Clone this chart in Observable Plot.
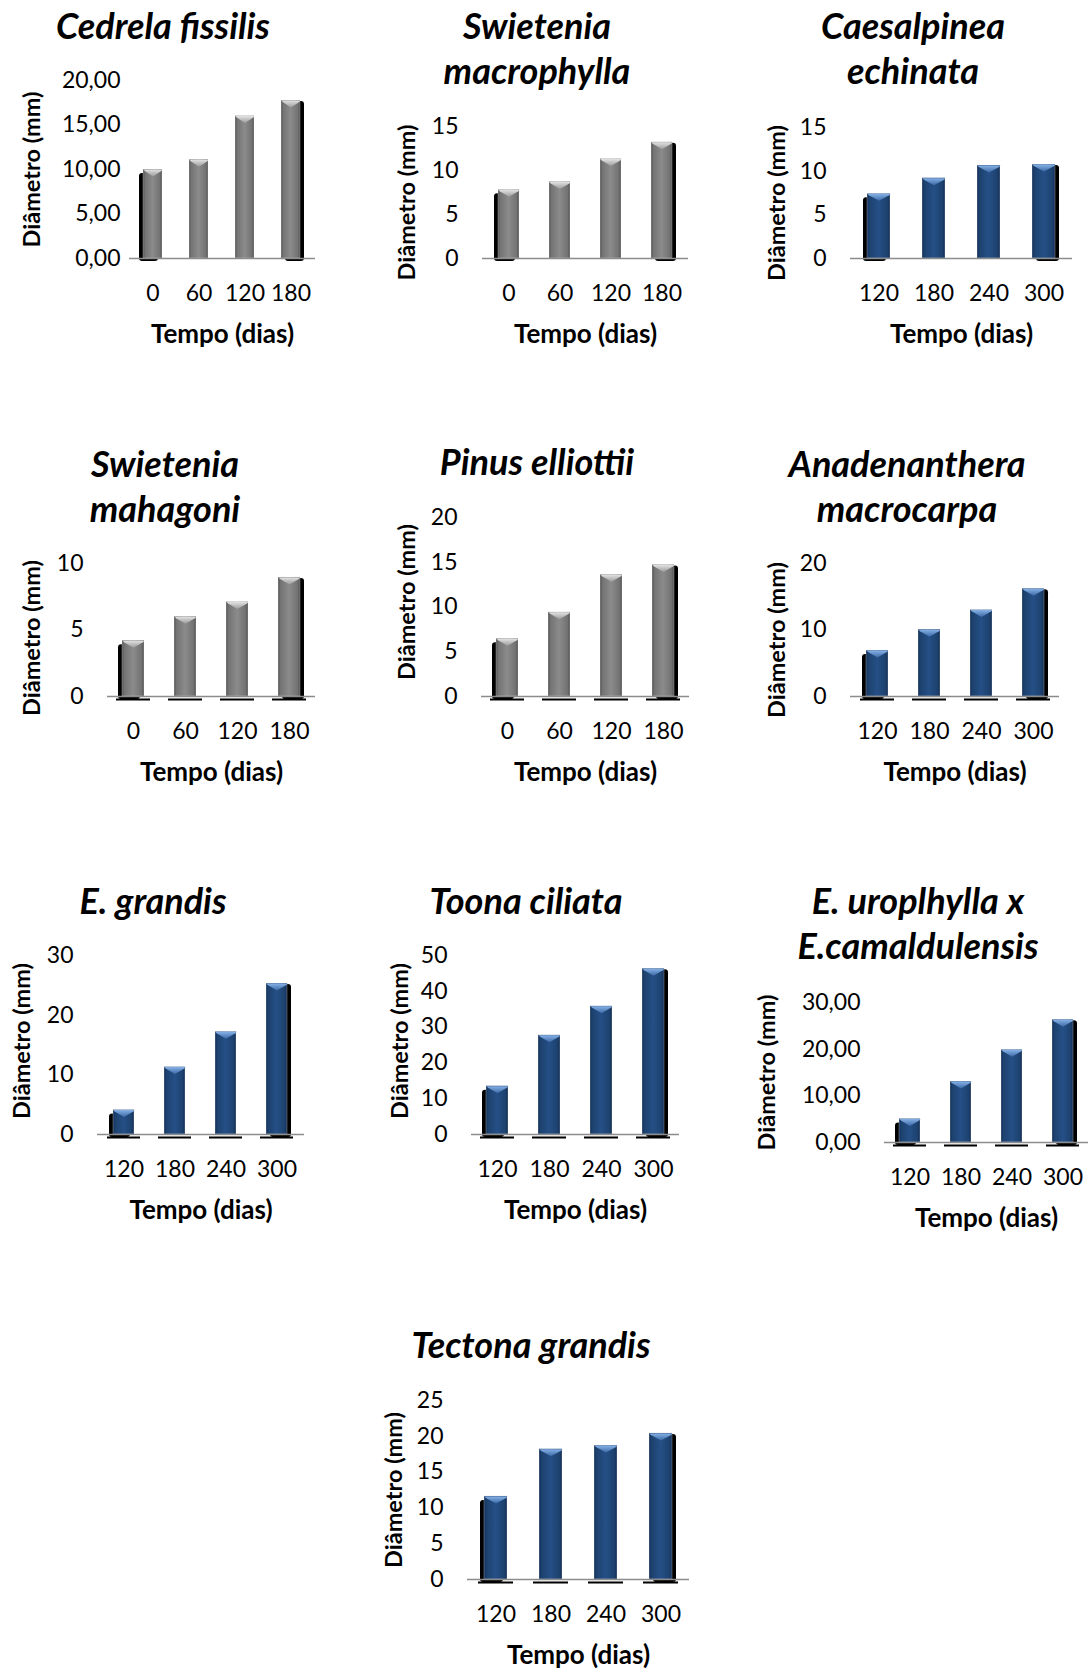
<!DOCTYPE html>
<html>
<head>
<meta charset="utf-8">
<script src="https://cdn.jsdelivr.net/npm/d3@7"></script>
<script src="https://cdn.jsdelivr.net/npm/@observablehq/plot@0.6"></script>
<style>
  html, body { margin: 0; padding: 0; background: #fff; }
  #page { position: relative; width: 1089px; height: 1670px; overflow: hidden; background: #fff; font-family: Lato, "Open Sans", sans-serif; }
  .title { position: absolute; transform: translateX(-50%); text-align: center; white-space: nowrap;
           font-family: Lato, "Open Sans", sans-serif; font-style: italic; font-weight: 700; font-size: 36px; line-height: 45px; color: #000; }
  .panel { position: absolute; }
  .panel svg { overflow: visible; max-width: none !important; }
</style>
</head>
<body>
<!-- shared gradients for the bar fills and their bevelled tops -->
<svg width="0" height="0" style="position:absolute">
  <defs>
    <linearGradient id="barGray" x1="0" x2="1" y1="0" y2="0">
      <stop offset="0" stop-color="#545454"/>
      <stop offset="0.12" stop-color="#747474"/>
      <stop offset="0.5" stop-color="#8b8b8b"/>
      <stop offset="0.88" stop-color="#737373"/>
      <stop offset="1" stop-color="#505050"/>
    </linearGradient>
    <linearGradient id="barBlue" x1="0" x2="1" y1="0" y2="0">
      <stop offset="0" stop-color="#142f57"/>
      <stop offset="0.12" stop-color="#1d426f"/>
      <stop offset="0.5" stop-color="#254f86"/>
      <stop offset="0.88" stop-color="#1d426f"/>
      <stop offset="1" stop-color="#132c52"/>
    </linearGradient>
    <linearGradient id="capGray" x1="0" x2="0" y1="0" y2="1">
      <stop offset="0" stop-color="#e2e2e2"/>
      <stop offset="1" stop-color="#9b9b9b"/>
    </linearGradient>
    <linearGradient id="capBlue" x1="0" x2="0" y1="0" y2="1">
      <stop offset="0" stop-color="#86b1e6"/>
      <stop offset="1" stop-color="#3b69a6"/>
    </linearGradient>
  </defs>
</svg>
<div id="page"></div>
<script>
// Sampling days (x categories)
const daysEarly = ["0", "60", "120", "180"];
const daysLate = ["120", "180", "240", "300"];

// Mean stem diameter (mm) per species
const cedrelaFissilis = [10.0, 11.1, 16.0, 17.75];
const swieteniaMacrophylla = [7.8, 8.7, 11.3, 13.2];
const caesalpineaEchinata = [7.4, 9.2, 10.65, 10.75];
const swieteniaMahagoni = [4.2, 6.0, 7.1, 8.95];
const pinusElliottii = [6.45, 9.4, 13.6, 14.7];
const anadenantheraMacrocarpa = [6.9, 10.05, 13.0, 16.2];
const eucalyptusGrandis = [4.1, 11.3, 17.2, 25.3];
const toonaCiliata = [13.5, 27.7, 35.8, 46.3];
const eucalyptusUroCamal = [5.05, 13.05, 19.85, 26.3];
const tectonaGrandis = [11.6, 18.2, 18.7, 20.4];

// y-axis tick values
const ticks0to20by5 = [0, 5, 10, 15, 20];
const ticks0to15by5 = [0, 5, 10, 15];
const ticks0to10by5 = [0, 5, 10];
const ticks0to20by10 = [0, 10, 20];
const ticks0to30by10 = [0, 10, 20, 30];
const ticks0to50by10 = [0, 10, 20, 30, 40, 50];
const ticks0to25by5 = [0, 5, 10, 15, 20, 25];

const yTitle = "Diâmetro (mm)";
const xTitle = "Tempo (dias)";

// Panel layout: frame = [left, top, right, bottom] of the plotting area on the page
const panels = [
  {title: ["Cedrela fissilis"], tx: 163, ty: 38, frame: [129, 80, 315, 258], days: daysEarly, values: cedrelaFissilis, ticks: ticks0to20by5, decimals: true, tone: "gray", floor: false, gap: 9, yOff: 97, yDy: 0},
  {title: ["Swietenia", "macrophylla"], tx: 537, ty: 38, frame: [482, 126, 688, 258], days: daysEarly, values: swieteniaMacrophylla, ticks: ticks0to15by5, decimals: false, tone: "gray", floor: false, gap: 24, yOff: 75, yDy: 10},
  {title: ["Caesalpinea", "echinata"], tx: 913, ty: 38, frame: [850, 127, 1072, 258], days: daysLate, values: caesalpineaEchinata, ticks: ticks0to15by5, decimals: false, tone: "blue", floor: false, gap: 24, yOff: 73, yDy: 10},
  {title: ["Swietenia", "mahagoni"], tx: 165, ty: 476, frame: [107, 563, 315, 696], days: daysEarly, values: swieteniaMahagoni, ticks: ticks0to10by5, decimals: false, tone: "gray", floor: true, gap: 24, yOff: 75, yDy: 8},
  {title: ["Pinus elliottii"], tx: 537, ty: 474, frame: [481, 517, 689, 696], days: daysEarly, values: pinusElliottii, ticks: ticks0to20by5, decimals: false, tone: "gray", floor: true, gap: 24, yOff: 74, yDy: -5},
  {title: ["Anadenanthera", "macrocarpa"], tx: 907, ty: 476, frame: [850, 563, 1059, 696], days: daysLate, values: anadenantheraMacrocarpa, ticks: ticks0to20by10, decimals: false, tone: "blue", floor: true, gap: 24, yOff: 73, yDy: 10},
  {title: ["E. grandis"], tx: 153, ty: 913, frame: [97, 955, 304, 1134], days: daysLate, values: eucalyptusGrandis, ticks: ticks0to30by10, decimals: false, tone: "blue", floor: true, gap: 24, yOff: 75, yDy: -4},
  {title: ["Toona ciliata"], tx: 526, ty: 913, frame: [471, 955, 679, 1134], days: daysLate, values: toonaCiliata, ticks: ticks0to50by10, decimals: false, tone: "blue", floor: true, gap: 24, yOff: 71, yDy: -4},
  {title: ["E. uroplhylla x", "E.camaldulensis"], tx: 918, ty: 913, frame: [884, 1002, 1088, 1142], days: daysLate, values: eucalyptusUroCamal, ticks: ticks0to30by10, decimals: true, tone: "blue", floor: true, gap: 24, yOff: 117, yDy: 0},
  {title: ["Tectona grandis"], tx: 531, ty: 1357, frame: [467, 1400, 689, 1579], days: daysLate, values: tectonaGrandis, ticks: ticks0to25by5, decimals: false, tone: "blue", floor: true, gap: 24, yOff: 73, yDy: 0}
];

const axisGray = "#8c8c8c";
const page = document.getElementById("page");

function drawPanel(p) {
  const [L, T, R, B] = p.frame;
  const ML = 140, MR = 24, MT = 22, MB = 110;
  const W = ML + (R - L) + MR, H = MT + (B - T) + MB;
  const rows = p.days.map((day, i) => ({day, value: p.values[i]}));
  const first = rows.slice(0, 1);
  const last = rows.slice(-1);
  const paddingInner = 0.58;
  const barWidth = (R - L) / p.days.length * (1 - paddingInner);
  const fmt = p.decimals ? (v => v.toFixed(2).replace(".", ",")) : (v => String(v));
  // bevelled cap: a downward wedge spanning the bar's top edge
  const cap = {draw(ctx) {
    const w = barWidth / 2;
    ctx.moveTo(-w, 0); ctx.lineTo(w, 0); ctx.lineTo(w - 1.5, 1.5); ctx.lineTo(0, 7); ctx.lineTo(-w + 1.5, 1.5); ctx.closePath();
  }};
  const barFill = p.tone === "gray" ? "url(#barGray)" : "url(#barBlue)";
  const capFill = p.tone === "gray" ? "url(#capGray)" : "url(#capBlue)";

  const marks = [];
  if (p.floor) {
    marks.push(Plot.tickY(rows, {x: "day", y: () => 0, dy: 3, insetLeft: -6, insetRight: -6, stroke: "#000", strokeWidth: 2}));
  }
  marks.push(
    Plot.barY(first, {x: "day", y: "value", fill: "#000", dx: -4, dy: 3, insetTop: 1, rx: 3}),
    Plot.barY(last, {x: "day", y: "value", fill: "#000", dx: 4, dy: 3, insetTop: -2, rx: 3}),
    Plot.barY(rows, {x: "day", y: "value", fill: barFill, stroke: "rgba(255,255,255,0.35)", strokeWidth: 0.8}),
    Plot.dot(rows, {x: "day", y: "value", symbol: cap, r: 5, fill: capFill, stroke: "none"}),
    Plot.ruleY([0], {stroke: axisGray, strokeWidth: 1.5}),
    Plot.axisY({ticks: p.ticks, tickFormat: fmt, tickSize: 0, tickPadding: p.gap, line: true, stroke: axisGray, strokeWidth: 1.5, fill: "#000", fontSize: 23, label: null}),
    Plot.axisX({tickSize: 0, tickPadding: 26, fill: "#000", fontSize: 23, label: null}),
    Plot.text([yTitle], {text: d => d, frameAnchor: "left", textAnchor: "middle", lineAnchor: "middle", dx: -p.yOff, dy: p.yDy, rotate: -90, fontWeight: "bold", fontSize: 23.5, fill: "#000"}),
    Plot.text([xTitle], {text: d => d, frameAnchor: "bottom", textAnchor: "middle", lineAnchor: "middle", dy: 76, fontWeight: "bold", fontSize: 26, fill: "#000"})
  );

  const chart = Plot.plot({
    width: W,
    height: H,
    marginLeft: ML, marginRight: MR, marginTop: MT, marginBottom: MB,
    style: {fontFamily: "Lato, 'Open Sans', sans-serif", fontSize: "23px", color: "#000", background: "transparent", overflow: "visible", maxWidth: "none"},
    x: {type: "band", domain: p.days, paddingInner, paddingOuter: paddingInner / 2, axis: null},
    y: {type: "linear", domain: [0, d3.max(p.ticks)], axis: null},
    marks
  });

  const holder = document.createElement("div");
  holder.className = "panel";
  holder.style.left = (L - ML) + "px";
  holder.style.top = (T - MT) + "px";
  holder.style.width = W + "px";
  holder.style.height = H + "px";
  holder.appendChild(chart);
  page.appendChild(holder);

  const title = document.createElement("div");
  title.className = "title";
  title.style.left = p.tx + "px";
  title.style.top = (p.ty - 35) + "px";
  p.title.forEach((line, i) => {
    if (i) title.appendChild(document.createElement("br"));
    title.appendChild(document.createTextNode(line));
  });
  page.appendChild(title);
}

panels.forEach(drawPanel);
</script>
</body>
</html>
